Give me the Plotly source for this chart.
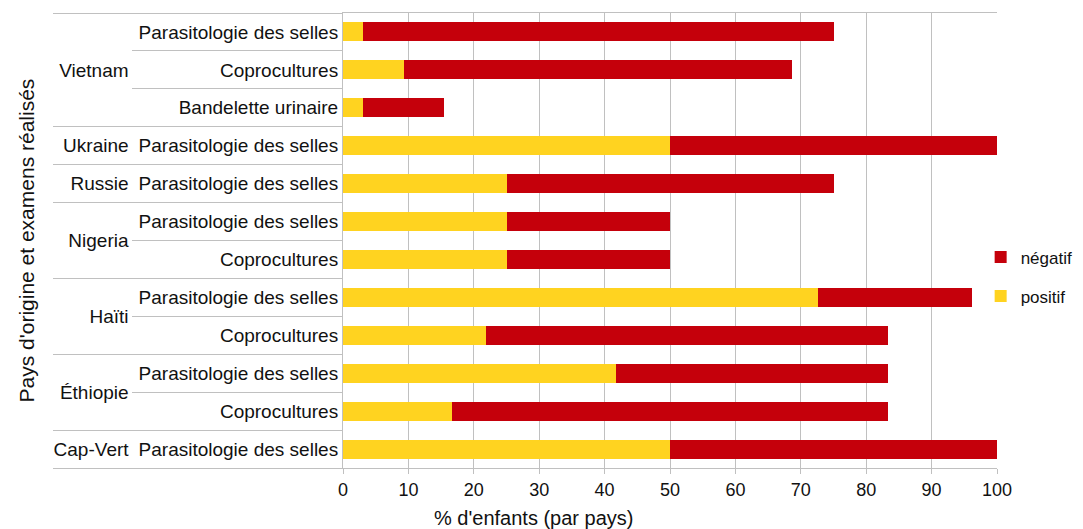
import plotly.graph_objects as go

countries = ["Vietnam", "Vietnam", "Vietnam", "Ukraine", "Russie", "Nigeria", "Nigeria",
             "Haïti", "Haïti", "Éthiopie", "Éthiopie", "Cap-Vert"]
exams = ["Parasitologie des selles", "Coprocultures", "Bandelette urinaire",
         "Parasitologie des selles", "Parasitologie des selles",
         "Parasitologie des selles", "Coprocultures",
         "Parasitologie des selles", "Coprocultures",
         "Parasitologie des selles", "Coprocultures",
         "Parasitologie des selles"]
positif = [3.1, 9.4, 3.1, 50, 25, 25, 25, 72.7, 21.8, 41.7, 16.7, 50]
negatif = [71.9, 59.2, 12.4, 50, 50, 25, 25, 23.5, 61.6, 41.6, 66.6, 50]

x_title = "% d'enfants (par pays)"
y_title = "Pays d'origine et examens réalisés"

FONT = "Liberation Sans, Arial, sans-serif"
YELLOW = "#ffd320"
RED = "#c5000b"
GRID = "#c0c0c0"

fig = go.Figure()
fig.add_trace(go.Bar(y=[countries, exams], x=positif, name="positif", orientation="h",
                     marker=dict(color=YELLOW, line=dict(width=0)), legendgroup="p",
                     legendrank=2))
fig.add_trace(go.Bar(y=[countries, exams], x=negatif, name="négatif", orientation="h",
                     marker=dict(color=RED, line=dict(width=0)), legendgroup="n",
                     legendrank=1))

fig.update_layout(
    width=1075, height=521,
    barmode="stack", bargap=0.5,
    plot_bgcolor="white", paper_bgcolor="white",
    margin=dict(l=335, r=86, t=5, b=61, autoexpand=False),
    font=dict(family=FONT, size=19, color="#111111"),
    legend=dict(x=0.975, y=0.42, xanchor="left", yanchor="middle",
                traceorder="grouped", tracegroupgap=14,
                font=dict(size=17), itemwidth=30),
    xaxis=dict(range=[0, 100], dtick=10, showgrid=True, gridcolor=GRID, gridwidth=1,
               zeroline=False, showline=True, linecolor=GRID, mirror=True,
               ticks="outside", ticklen=5, tickcolor=GRID, automargin=False,
               tickfont=dict(size=18)),
    yaxis=dict(type="multicategory", autorange="reversed", showline=True, linecolor=GRID,
               showdividers=True, dividercolor=GRID, dividerwidth=1,
               tickson="boundaries", ticks="outside", ticklen=210, tickcolor=GRID,
               showgrid=False, automargin=False,
               tickfont=dict(size=19)),
    annotations=[
        dict(text=x_title, xref="paper", yref="paper", x=(533 - 343) / 654, y=0.0,
             yshift=-50, xanchor="center", yanchor="middle", showarrow=False,
             font=dict(size=20)),
        dict(text=y_title, xref="paper", yref="paper", x=0, xshift=-317, y=0.5,
             xanchor="center", yanchor="middle", textangle=-90, showarrow=False,
             font=dict(size=21)),
    ],
)

fig.write_html("out.html")
